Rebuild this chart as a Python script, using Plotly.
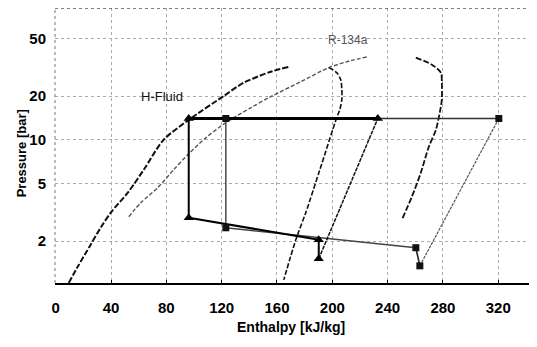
import plotly.graph_objects as go

# ---- data (enthalpy kJ/kg, pressure bar) ----
hfluid_liq_h = [9.4, 15.9, 25.3, 32.5, 39.8, 52.1, 63.7, 78.1, 96.2, 120.8, 136.0, 155.5, 168.5]
hfluid_liq_p = [1.03, 1.33, 1.89, 2.47, 3.14, 4.31, 6.21, 10.0, 13.7, 19.8, 24.7, 29.4, 31.8]

r134a_liq_h = [52.8, 61.5, 73.8, 85.3, 96.2, 108.5, 123.0, 141.0, 155.5, 177.2, 197.5, 213.4, 225.7]
r134a_liq_p = [2.94, 3.68, 4.67, 6.21, 8.0, 10.3, 13.1, 16.6, 19.8, 25.1, 31.4, 35.1, 37.3]

hfluid_vap_h = [197.5, 203.2, 206.1, 206.9, 206.9, 205.4, 203.2, 191.0, 180.8, 173.6, 164.9]
hfluid_vap_p = [31.4, 29.0, 25.9, 22.1, 18.9, 16.1, 14.2, 6.21, 3.14, 2.04, 1.08]

r134a_vap_h = [260.4, 272.0, 278.5, 279.2, 279.2, 277.7, 274.9, 269.8, 264.0, 257.5, 250.3]
r134a_vap_p = [36.8, 32.9, 29.0, 24.7, 18.9, 15.4, 11.7, 8.95, 5.92, 4.04, 2.81]

cycle_a_h = [96.2, 96.2, 190.2, 190.2, 232.9]
cycle_a_p = [14.0, 2.9, 2.04, 1.51, 14.0]

cycle_b_h = [123.0, 123.0, 260.4, 263.3, 320.4]
cycle_b_p = [14.0, 2.47, 1.80, 1.35, 14.0]

x_ticks = [0, 40, 80, 120, 160, 200, 240, 280, 320]
y_ticks = [2, 5, 10, 20, 50]

FONT = "Liberation Sans Narrow, Arial Narrow, Liberation Sans, Arial"

fig = go.Figure()

def line(h, p, color, width, dash, shape="linear"):
    fig.add_trace(go.Scatter(x=h, y=p, mode="lines",
                             line=dict(color=color, width=width, dash=dash, shape=shape,
                                       smoothing=0.8 if shape == "spline" else None),
                             showlegend=False, hoverinfo="skip"))

# saturation / property curves
line(hfluid_liq_h, hfluid_liq_p, "#111111", 2, "6px,2px", "spline")
line(r134a_liq_h, r134a_liq_p, "#555555", 1.4, "4px,2px", "spline")
line(hfluid_vap_h, hfluid_vap_p, "#111111", 1.6, "5px,2px", "spline")
line(r134a_vap_h, r134a_vap_p, "#111111", 1.8, "6px,2px", "spline")

# cycle B (R-134a): segments
line(cycle_b_h[0:2], cycle_b_p[0:2], "#555555", 1.6, "solid")
line(cycle_b_h[1:3], cycle_b_p[1:3], "#444444", 1.6, "solid")
line(cycle_b_h[2:4], cycle_b_p[2:4], "#222222", 1.6, "solid")
line(cycle_b_h[3:5], cycle_b_p[3:5], "#555555", 1.2, "3px,1px")
line([cycle_b_h[4], cycle_b_h[0]], [cycle_b_p[4], cycle_b_p[0]], "#333333", 1.4, "solid")

# cycle A (H-Fluid): segments
line(cycle_a_h[0:2], cycle_a_p[0:2], "#000000", 2, "solid")
line(cycle_a_h[1:3], cycle_a_p[1:3], "#000000", 2, "solid")
line(cycle_a_h[2:4], cycle_a_p[2:4], "#000000", 2, "solid")
line(cycle_a_h[3:5], cycle_a_p[3:5], "#111111", 1.5, "4px,1px")
line([cycle_a_h[4], cycle_a_h[0]], [cycle_a_p[4], cycle_a_p[0]], "#000000", 3, "solid")

fig.add_trace(go.Scatter(x=cycle_b_h, y=cycle_b_p, mode="markers",
                         marker=dict(symbol="square", size=7, color="#111111"),
                         showlegend=False, hoverinfo="skip"))
fig.add_trace(go.Scatter(x=cycle_a_h, y=cycle_a_p, mode="markers",
                         marker=dict(symbol="triangle-up", size=9, color="#000000"),
                         showlegend=False, hoverinfo="skip"))

fig.add_annotation(x=76.7, y=1.297, xref="x", yref="y", text="H-Fluid", showarrow=False,
                   font=dict(family="Liberation Sans, Arial", size=13, color="#111111"))
fig.add_annotation(x=211.2, y=1.69, xref="x", yref="y", text="R-134a", showarrow=False,
                   font=dict(family="Liberation Sans, Arial", size=12, color="#555555"))

fig.add_annotation(x=-0.089, y=0.47, xref="paper", yref="paper", text="Pressure [bar]",
                   textangle=-90, showarrow=False,
                   font=dict(family=FONT, size=13, color="#000000", weight="bold"))
fig.add_annotation(x=0.49, y=-0.196, xref="paper", yref="paper", text="Enthalpy [kJ/kg]",
                   showarrow=False,
                   font=dict(family=FONT, size=14, color="#000000", weight="bold"))

# dotted frame on top and left
fig.add_shape(type="line", xref="paper", yref="paper", x0=0, x1=1, y0=1, y1=1,
              line=dict(color="#555555", width=1.5, dash="dot"))
fig.add_shape(type="line", xref="paper", yref="paper", x0=0, x1=0, y0=0, y1=1,
              line=dict(color="#777777", width=1, dash="dot"))

fig.update_layout(
    width=529, height=339,
    margin=dict(l=47, r=0, t=0, b=64),
    paper_bgcolor="white", plot_bgcolor="white",
    showlegend=False,
    xaxis=dict(range=[-0.5, 348], tickvals=x_ticks, ticktext=[str(v) for v in x_ticks],
               showgrid=True, gridcolor="#aaaaaa", griddash="dot", gridwidth=1,
               zeroline=False, showline=True, linecolor="#000000", linewidth=1.5,
               ticks="inside", ticklen=3, tickcolor="#000000", ticklabelstandoff=10,
               tickfont=dict(family=FONT, size=15, color="#000000", weight="bold")),
    yaxis=dict(type="log", range=[0.012, 1.908], tickvals=y_ticks,
               ticktext=[str(v) for v in y_ticks],
               showgrid=True, gridcolor="#aaaaaa", griddash="dot", gridwidth=1,
               zeroline=False, showline=False, ticks="", ticklabelstandoff=8,
               tickfont=dict(family=FONT, size=15, color="#000000", weight="bold")),
)

fig.write_html("out.html")
